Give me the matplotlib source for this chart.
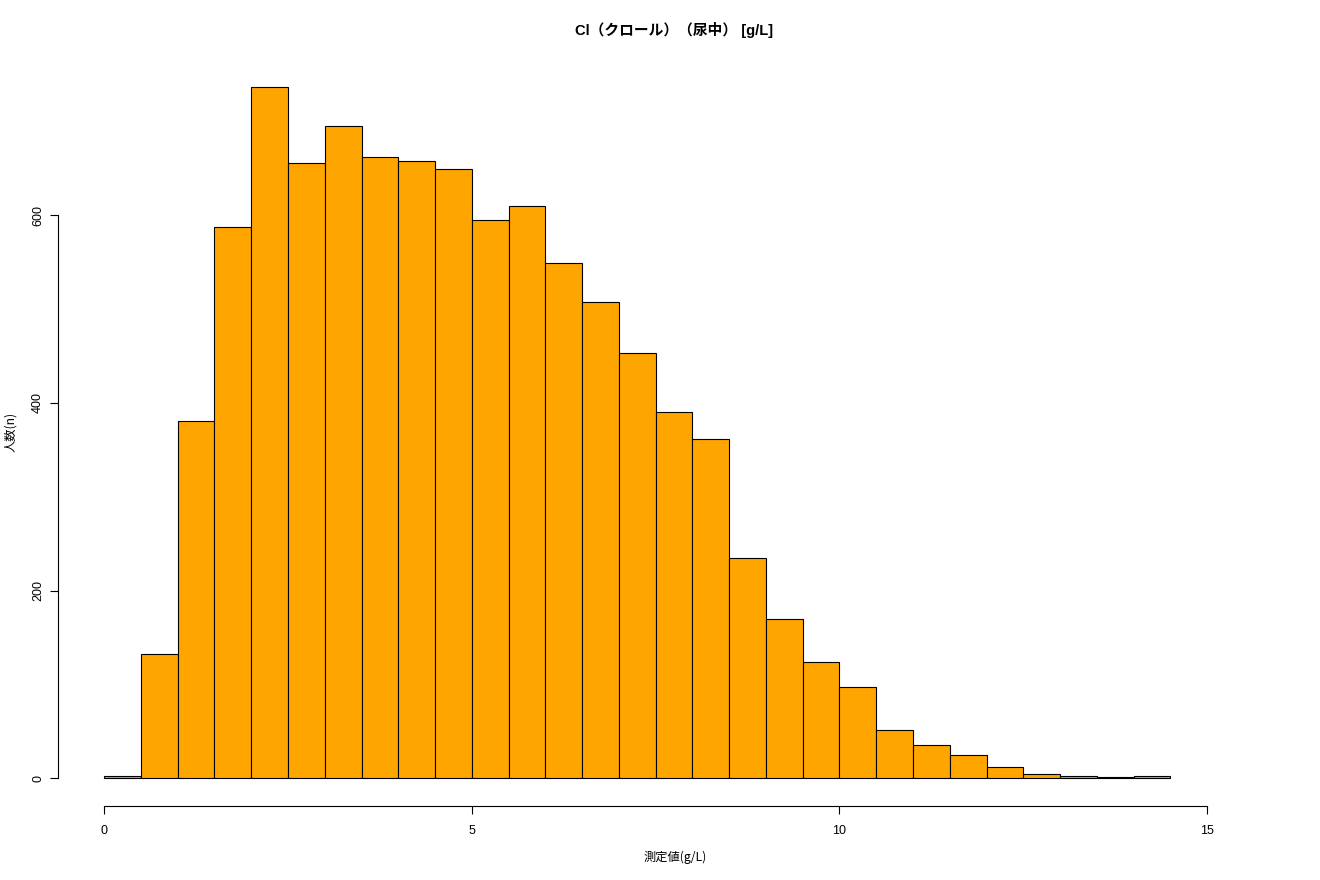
import matplotlib
matplotlib.use("Agg")
import matplotlib.pyplot as plt

plt.rcParams['font.family'] = ['Liberation Sans', 'Noto Sans CJK JP', 'DejaVu Sans']

bin_left = [0.0, 0.5, 1.0, 1.5, 2.0, 2.5, 3.0, 3.5, 4.0, 4.5, 5.0, 5.5, 6.0, 6.5,
            7.0, 7.5, 8.0, 8.5, 9.0, 9.5, 10.0, 10.5, 11.0, 11.5, 12.0, 12.5,
            13.0, 13.5, 14.0]
counts = [3, 132, 381, 587, 737, 656, 695, 662, 658, 649, 595, 610, 549, 508,
          453, 390, 362, 235, 170, 124, 97, 52, 36, 25, 12, 5, 3, 1, 3]
bin_width = 0.5
x_ticks = [0, 5, 10, 15]
y_ticks = [0, 200, 400, 600]
title = "Cl（クロール）（尿中） [g/L]"
xlabel = "測定値(g/L)"
ylabel = "人数(n)"

W, H = 1320, 880
fig = plt.figure(figsize=(W / 100, H / 100), dpi=100)
left, right, top, bottom = 61.5, 1213, 59, 806
ax = fig.add_axes([left / W, (H - bottom) / H, (right - left) / W, (bottom - top) / H])

ax.bar(bin_left, counts, width=bin_width, align='edge', color='#FFA500',
       edgecolor='black', linewidth=0.8)

xmin, xmax = bin_left[0], bin_left[-1] + bin_width
ymax = max(counts)
ax.set_xlim(xmin - 0.04 * (xmax - xmin), xmax + 0.04 * (xmax - xmin))
ax.set_ylim(-0.04 * ymax, ymax * 1.04)

for s in ['top', 'right']:
    ax.spines[s].set_visible(False)
ax.spines['left'].set_bounds(y_ticks[0], y_ticks[-1])
ax.spines['bottom'].set_bounds(x_ticks[0], x_ticks[-1])
ax.spines['left'].set_position(('outward', 2.5))
for s in ['left', 'bottom']:
    ax.spines[s].set_linewidth(0.8)

ax.set_xticks(x_ticks)
ax.set_yticks(y_ticks)
ax.tick_params(axis='both', direction='out', length=6, width=0.8, labelsize=9)
ax.tick_params(axis='x', pad=8)
ax.tick_params(axis='y', pad=4)
for lbl in ax.get_yticklabels():
    lbl.set_rotation(90)
    lbl.set_va('center')

fig.text(674 / W, 1 - 30 / H, title, ha='center', va='center', fontsize=10.6,
         fontweight='bold', family=['Liberation Sans', 'Noto Sans CJK JP'])
fig.text(675 / W, 1 - 857 / H, xlabel, ha='center', va='center',
         fontsize=8.8, family=['Noto Sans CJK JP', 'Liberation Sans'])
fig.text(11 / W, 1 - 432 / H, ylabel, ha='center', va='center', rotation=90,
         fontsize=8.8, family=['Noto Sans CJK JP', 'Liberation Sans'])

fig.savefig("out.png", dpi=100)
